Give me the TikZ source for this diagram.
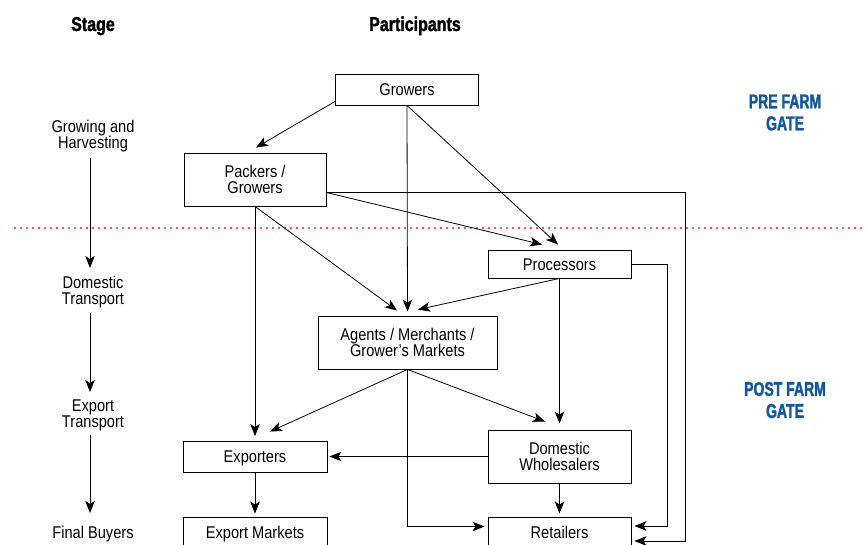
\documentclass[tikz,border=0pt]{standalone}
\usepackage{fontspec}
\setmainfont{Liberation Sans}[FakeStretch=0.86]
\newfontfamily\hdrfont{Liberation Sans}[FakeStretch=0.8, BoldFeatures={FakeBold=1.6}]
\newfontfamily\gatefont{Liberation Sans}[FakeStretch=0.7, BoldFeatures={FakeBold=1.6}]
\usetikzlibrary{arrows.meta,calc}
\definecolor{gateblue}{RGB}{18,88,158}
\definecolor{dotred}{RGB}{232,28,40}
\begin{document}
\begin{tikzpicture}[x=1pt,y=-1pt,
  box/.style={draw, line width=0.9pt, minimum width=143pt, inner sep=0pt, align=center, font=\fontsize{17}{16}\selectfont},
  onebox/.style={box, text height=12pt, text depth=0pt},
  lbl/.style={align=center, inner sep=0pt, font=\fontsize{17}{16}\selectfont},
  hdr/.style={font=\hdrfont\bfseries\fontsize{20}{20}\selectfont, inner sep=0pt, anchor=base},
  gate/.style={font=\gatefont\bfseries\fontsize{20}{22}\selectfont, text=gateblue, align=center, inner sep=0pt},
  arr/.style={draw, line width=0.8pt, -{Stealth[length=12pt,width=9.5pt,inset=3pt]}}]
\useasboundingbox (0,0) rectangle (866,545);
\clip (0,0) rectangle (866,545);

% headers
\node[hdr] (hstage) at (93,31) {Stage};
\node[hdr] (hpart) at (415,31) {Participants};
\node[gate] (pre) at (785,112.5) {PRE FARM\\GATE};
\node[gate] (post) at (785,400) {POST FARM\\GATE};

% dotted gate line
\draw[dotred, line width=2.4pt, line cap=round, dash pattern=on 0pt off 6pt] (15,228) -- (868,228);

% stage column
\coordinate (sx) at (90,0);
\node[lbl] (s1) at (93,136) {Growing and\\Harvesting};
\node[lbl] (s2) at (93,292) {Domestic\\Transport};
\node[lbl] (s3) at (93,415) {Export\\Transport};
\node[lbl] (s4) at (93,534) {Final Buyers};
\draw[arr, shorten <=22pt, shorten >=24pt] (s1 -| sx) -- (s2 -| sx);
\draw[arr, shorten <=21pt, shorten >=23pt] (s2 -| sx) -- (s3 -| sx);
\draw[arr, shorten <=20pt, shorten >=21pt] (s3 -| sx) -- (s4 -| sx);

% participant boxes
\node[onebox, minimum height=31pt] (growers) at (407,89.5) {Growers};
\node[box, minimum width=142pt, minimum height=53pt] (packers) at (255,179.5) {Packers /\\Growers};
\node[onebox, minimum height=28pt] (proc) at (559.5,264) {Processors};
\node[box, minimum width=179pt, minimum height=53pt] (agents) at (407.5,342.5) {Agents / Merchants /\\Grower’s Markets};
\node[onebox, minimum width=144pt, minimum height=31pt] (exporters) at (255,456.5) {Exporters};
\node[box, minimum height=53pt] (dw) at (559.5,456.5) {Domestic\\Wholesalers};
\node[onebox, minimum width=144pt, minimum height=31pt] (expmk) at (255,532.5) {Export Markets};
\node[onebox, minimum height=31pt] (ret) at (559.5,532.5) {Retailers};

% connectors
\draw[arr] ($(growers.south west)+(0,-4)$) -- ($(packers.north)+(1,-5)$);
\draw[arr] (growers.south) -- ($(agents.north)+(0,-4)$);
\draw[arr] (growers.south) -- ($(proc.north)+(-1.5,-5)$);
\draw[arr] ($(packers.east)+(0,13)$) -- ($(proc.north)+(-17.5,-5)$);
\draw[arr] ($(packers.east)+(0,13)$) -| ($(ret.east)+(54,8.5)$) -- ($(ret.east)+(3,8.5)$);
\draw[arr] (packers.south) -- ($(agents.north)+(-10.5,-5)$);
\draw[arr] (packers.south) -- ($(exporters.north)+(0,-4.5)$);
\draw[arr] (proc.south) -- ($(agents.north)+(10.5,-6)$);
\draw[arr] (proc.south) -- ($(dw.north)+(0,-6)$);
\draw[arr] (proc.east) -| ($(ret.east)+(36,-6.5)$) -- ($(ret.east)+(3,-6.5)$);
\draw[arr] (agents.south) -- ($(exporters.north)+(15,-9)$);
\draw[arr] (agents.south) -- ($(dw.north)+(-14.5,-8)$);
\draw[arr] (agents.south) |- ($(ret.west)+(-3,-6)$);
\draw[arr] (dw.west) -- ($(exporters.east)+(2,0)$);
\draw[arr] (dw.south) -- ($(ret.north)+(0,-3)$);
\draw[arr] (exporters.south) -- ($(expmk.north)+(0,-3)$);
\end{tikzpicture}
\end{document}
